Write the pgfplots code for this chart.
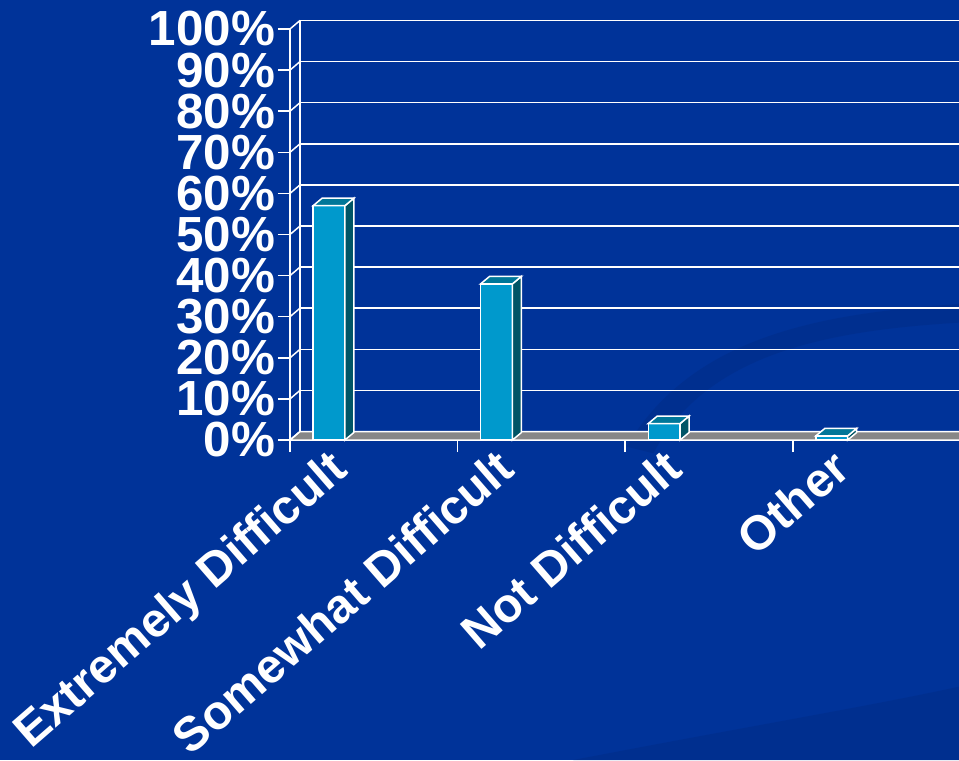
\documentclass[border=0pt]{standalone}
\usepackage{fontspec}
\setmainfont{Liberation Sans}
\usepackage{pgfplots}
\pgfplotsset{compat=1.18}
\usepackage{pgfplotstable}

\definecolor{bg}{HTML}{003399}
\definecolor{bgdark}{HTML}{002E8C}
\definecolor{barfront}{HTML}{0099CC}
\definecolor{bartopc}{HTML}{007799}
\definecolor{barsidec}{HTML}{005566}
\definecolor{floorgray}{HTML}{878787}

% share of answers, in percent
\pgfplotstableread{
idx v
0 57
1 38
2 4
3 1
}\survey

% 3d caps of the bars, drawn at the top centre of each front face (1px = 0.75pt)
\pgfdeclareplotmark{bartop}{%
  \pgfpathmoveto{\pgfpoint{-11.93pt}{0pt}}%
  \pgfpathlineto{\pgfpoint{11.93pt}{0pt}}%
  \pgfpathlineto{\pgfpoint{18.68pt}{5.63pt}}%
  \pgfpathlineto{\pgfpoint{-5.18pt}{5.63pt}}%
  \pgfpathclose
  \pgfusepath{fill,stroke}}
\pgfdeclareplotmark{barside}{%
  \pgfmathsetmacro\barh{\barval*3.0825}%
  \pgfmathsetmacro\sidelo{5.63-\barh}%
  \pgfpathmoveto{\pgfpoint{11.93pt}{0pt}}%
  \pgfpathlineto{\pgfpoint{18.68pt}{5.63pt}}%
  \pgfpathlineto{\pgfpoint{18.68pt}{\sidelo pt}}%
  \pgfpathlineto{\pgfpoint{11.93pt}{-\barh pt}}%
  \pgfpathclose
  \pgfusepath{fill,stroke}}

\begin{document}
\begin{tikzpicture}
\useasboundingbox (0,0) rectangle (719.25pt,570pt);
\fill[bg] (0,0) rectangle (719.25pt,570pt);
% faint swooshes of the slide background
\fill[bgdark, opacity=0.7] (470pt,235pt) .. controls (520pt,320pt) and (620pt,335pt) .. (719.25pt,342pt)
  -- (719.25pt,328pt) .. controls (620pt,322pt) and (530pt,305pt) .. (490pt,230pt) -- cycle;
\fill[bgdark, opacity=0.7] (430pt,0pt) .. controls (560pt,25pt) and (650pt,40pt) .. (719.25pt,55pt)
  -- (719.25pt,0pt) -- cycle;

% back wall with its grid
\begin{axis}[
    at={(225pt,246.375pt)}, anchor=south west,
    scale only axis, width=494.25pt, height=308.25pt,
    xmin=0, xmax=1, ymin=0, ymax=100,
    xtick=\empty, ytick={0,10,...,100}, yticklabels={},
    major tick length=0pt,
    ymajorgrids, grid style={white, line width=1.125pt},
    axis lines*=left,
    axis line style={white, line width=1.125pt},
    clip=false,
]
\addplot[draw=none] coordinates {(0,0)};
\end{axis}

% front axis with the bars
\begin{axis}[
    at={(217.5pt,240pt)}, anchor=south west,
    scale only axis, width=501.75pt, height=308.25pt,
    xmin=0, xmax=3.9916, ymin=0, ymax=100,
    axis lines*=left,
    axis line style={white, line width=1.125pt},
    tick style={white, line width=1.125pt},
    tick align=outside, major tick length=9pt,
    xtick={0,1,2,3}, xticklabels={},
    ytick={0,10,...,100},
    yticklabels={0\%,10\%,20\%,30\%,40\%,50\%,60\%,70\%,80\%,90\%,100\%},
    yticklabel style={text=white, font=\bfseries\fontsize{37}{37}\selectfont, inner sep=0pt, anchor=east, xshift=-2pt},
    extra x ticks={0.2325,1.2325,2.2325,3.2325},
    extra x tick labels={Extremely Difficult,Somewhat Difficult,Not Difficult,Other},
    extra x tick style={major tick length=0pt,
      xticklabel style={text=white, font=\bfseries\fontsize{36}{36}\selectfont,
        rotate=41, anchor=north east, inner sep=0pt, xshift=-4.5pt, yshift=-2.5pt}},
    clip=false,
]
% floor
\path[fill=floorgray, draw=white, line width=1.125pt]
  (axis cs:0,0) -- ([shift={(7.5pt,6.375pt)}]axis cs:0,0)
  -- ([shift={(7.5pt,6.375pt)}]axis cs:4.2,0) -- (axis cs:4.2,0) -- cycle;
% side wall
\pgfplotsinvokeforeach{0,10,...,100}{
  \draw[white, line width=1.125pt] (axis cs:0,#1) -- ++(7.5pt,6.375pt);
}
% bars
\addplot[ybar, bar width=0.19, bar shift=0pt, fill=barfront, draw=white, line width=1.125pt]
  table[x expr=\coordindex+0.2325, y=v] {\survey};
\addplot[only marks, mark=barside, visualization depends on={rawy \as \barval},
  mark options={fill=barsidec, draw=white, line width=1.125pt}]
  table[x expr=\coordindex+0.2325, y=v] {\survey};
\addplot[only marks, mark=bartop,
  mark options={fill=bartopc, draw=white, line width=1.125pt}]
  table[x expr=\coordindex+0.2325, y=v] {\survey};
\end{axis}
\end{tikzpicture}
\end{document}
